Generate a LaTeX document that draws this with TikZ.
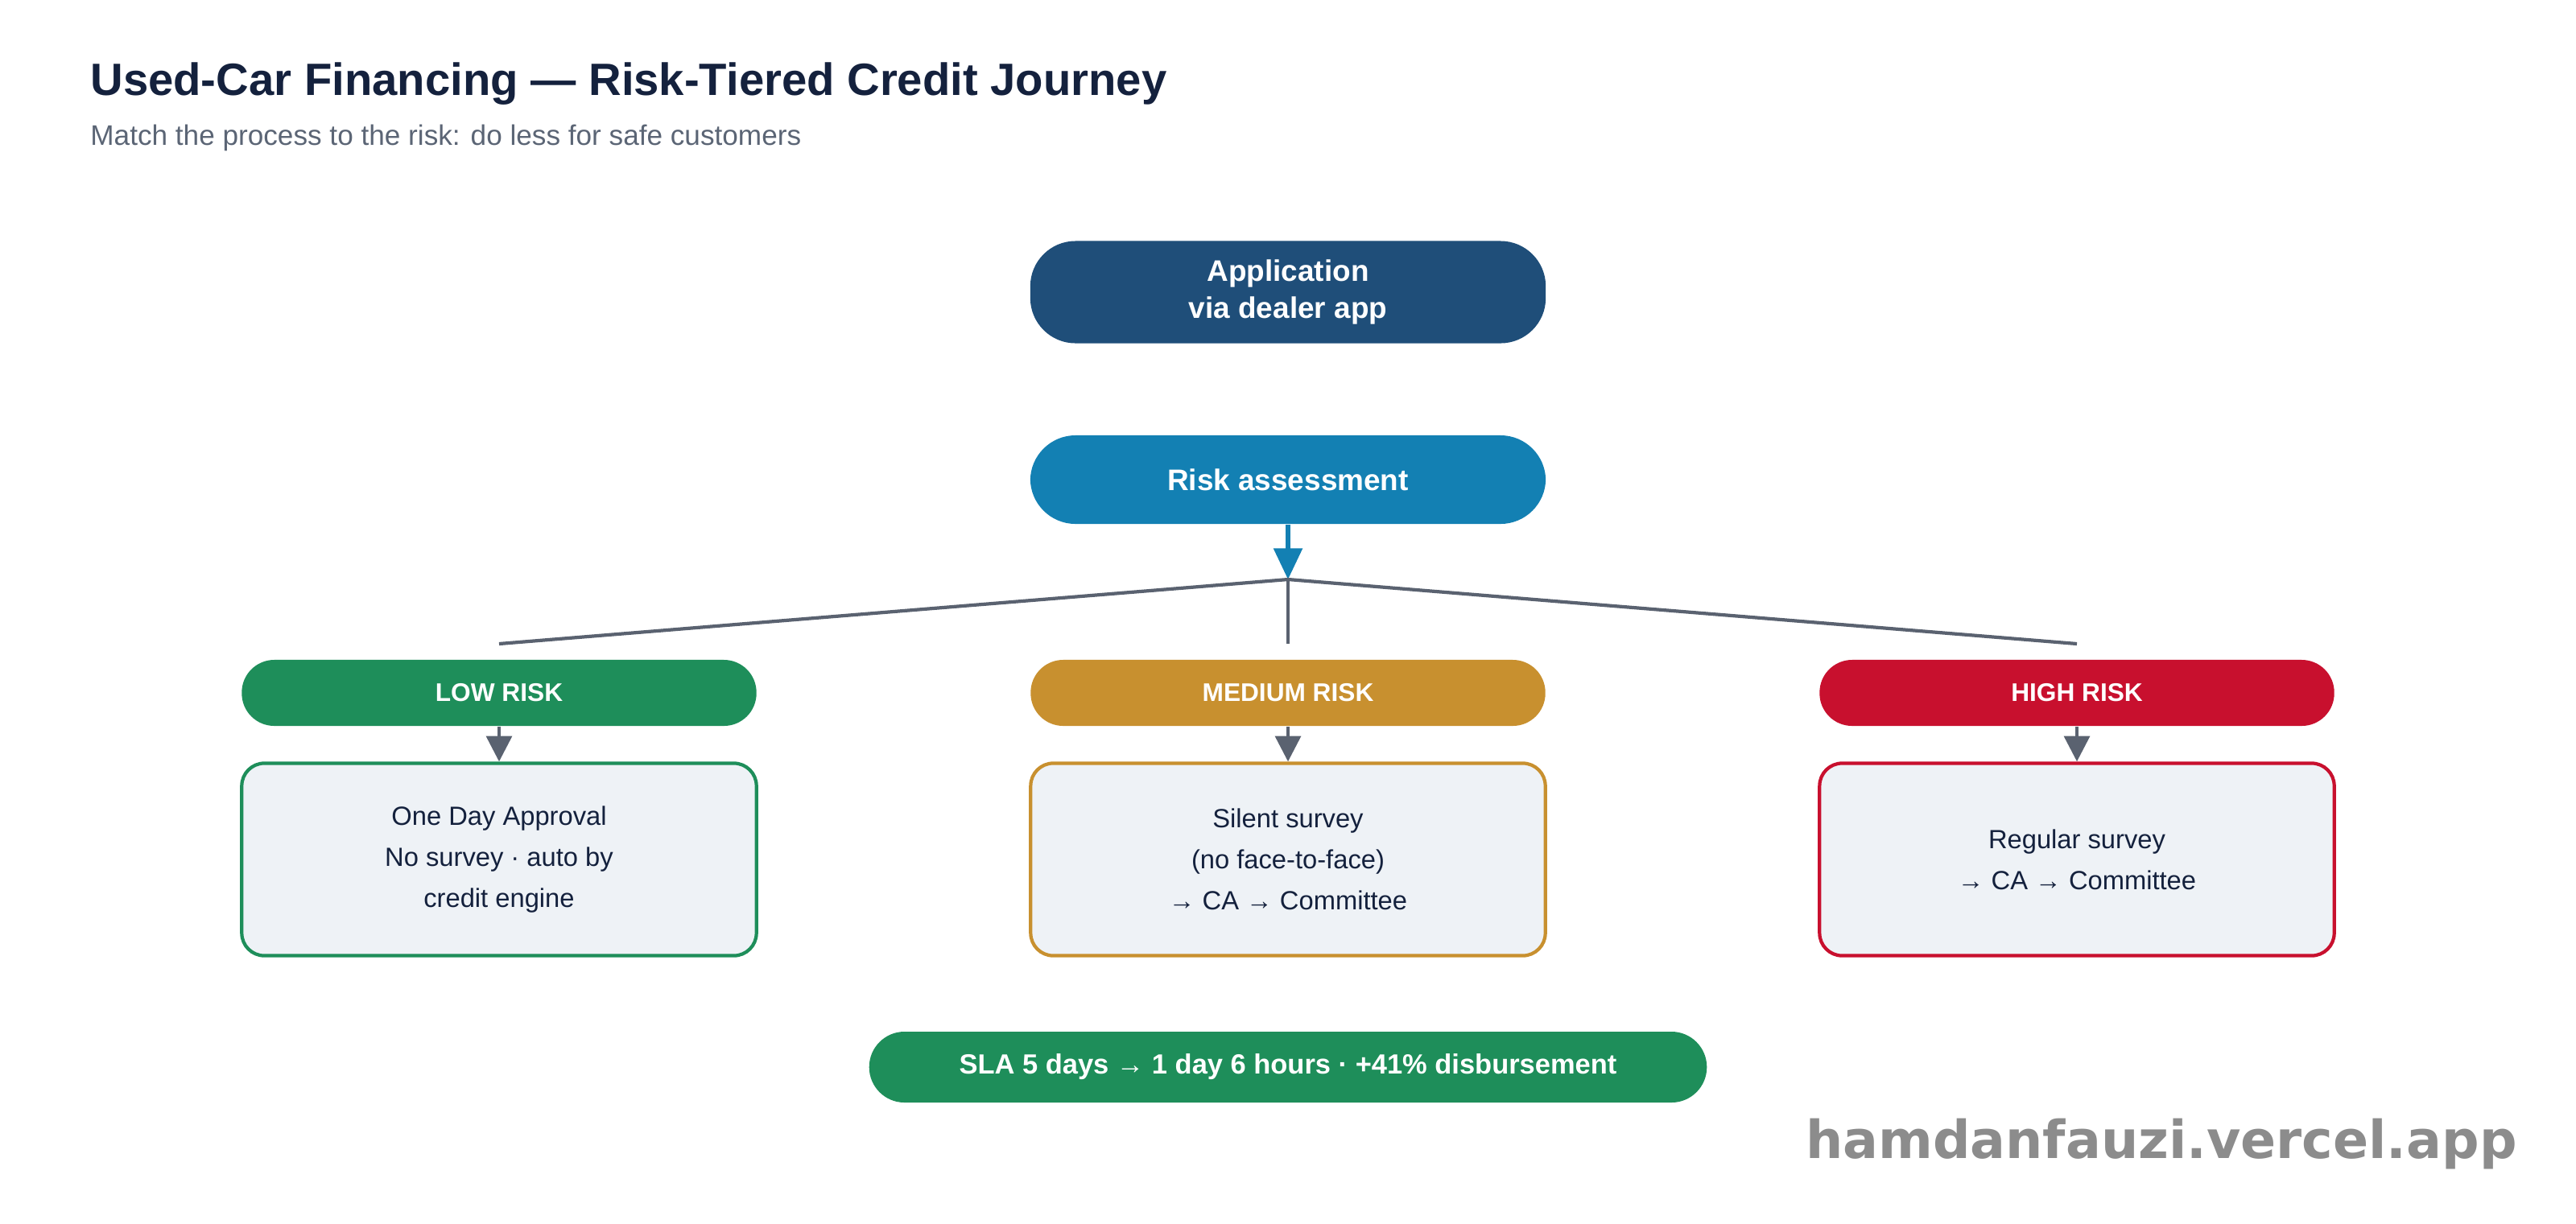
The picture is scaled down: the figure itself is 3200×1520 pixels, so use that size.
\documentclass[tikz,border=0pt]{standalone}
\usepackage{fontspec}
\setmainfont{Liberation Sans}
\newfontfamily\markfont{DejaVu Sans}
\usetikzlibrary{positioning,arrows.meta}
\definecolor{appblue}{HTML}{1F4E79}
\definecolor{riskblue}{HTML}{1380B3}
\definecolor{lowgreen}{HTML}{1E8E5A}
\definecolor{medgold}{HTML}{C8902F}
\definecolor{highred}{HTML}{C8102E}
\definecolor{boxfill}{HTML}{EEF2F6}
\definecolor{linegray}{HTML}{5A6270}
\definecolor{titleink}{HTML}{14213D}
\definecolor{subink}{HTML}{5B6575}
\tikzset{
  stepbox/.style={rounded corners=16pt, minimum width=6.4cm, align=center, text=white,
    font=\fontsize{10.5}{13}\selectfont\bfseries, inner sep=0pt},
  tierpill/.style={rounded corners=11.5pt, minimum width=6.39cm, minimum height=0.82cm,
    text=white, fill=#1, font=\fontsize{9}{11}\selectfont\bfseries, inner sep=0pt},
  detailbox/.style={draw=#1, line width=1.2pt, fill=boxfill, rounded corners=8pt,
    minimum width=6.39cm, minimum height=2.39cm, align=center, text=titleink,
    font=\fontsize{9.3}{14.5}\selectfont, inner sep=0pt},
  branch/.style={draw=linegray, line width=1.2pt},
  drop/.style={branch, -{Triangle[length=9pt,width=9pt]}}
}
\begin{document}
\begin{tikzpicture}[x=0.01cm, y=-0.01cm]
\useasboundingbox (0,0) rectangle (3200,1520);
\node[anchor=base west, text=titleink, font=\fontsize{16}{19}\selectfont\bfseries] (title) at (100,118) {Used-Car Financing — Risk-Tiered Credit Journey};
\node[anchor=base west, text=subink, font=\fontsize{10}{12}\selectfont] (subtitle) at (100,180) {Match the process to the risk: do less for safe customers};

% top of the flow
\node[stepbox, fill=appblue, minimum height=1.27cm] (app) at (1600,363) {Application\\via dealer app};
\node[stepbox, fill=riskblue, minimum height=1.1cm] (assess) at (1600,596) {Risk assessment};
\coordinate (split) at (1600,720);
\draw[riskblue, line width=1.5pt, -{Triangle[length=11pt,width=10pt]}] (assess) -- (split);

% tiers
\node[tierpill=lowgreen] (low) at (620,861) {LOW RISK};
\node[tierpill=medgold] (medium) at (1600,861) {MEDIUM RISK};
\node[tierpill=highred] (high) at (2580,861) {HIGH RISK};
\draw[branch] (split) -- (620,800);
\draw[branch] (split) -- (1600,800);
\draw[branch] (split) -- (2580,800);

\node[detailbox=lowgreen] (lowbox) at (620,1068) {One Day Approval\\No survey · auto by\\credit engine};
\node[detailbox=medgold] (medbox) at (1600,1068) {Silent survey\\(no face-to-face)\\→ CA → Committee};
\node[detailbox=highred] (highbox) at (2580,1068) {Regular survey\\→ CA → Committee};
\draw[drop] (low) -- (lowbox);
\draw[drop] (medium) -- (medbox);
\draw[drop] (high) -- (highbox);

% outcome
\node[fill=lowgreen, rounded corners=12.5pt, minimum width=10.4cm, minimum height=0.88cm, text=white,
  font=\fontsize{9.8}{12}\selectfont\bfseries, inner sep=0pt] (sla) at (1600,1326) {SLA 5 days → 1 day 6 hours · +41\% disbursement};
\node[anchor=base east, text=black!45, font=\markfont\fontsize{18.5}{22}\selectfont\bfseries] (mark) at (3139,1439) {hamdanfauzi.vercel.app};
\end{tikzpicture}
\end{document}
